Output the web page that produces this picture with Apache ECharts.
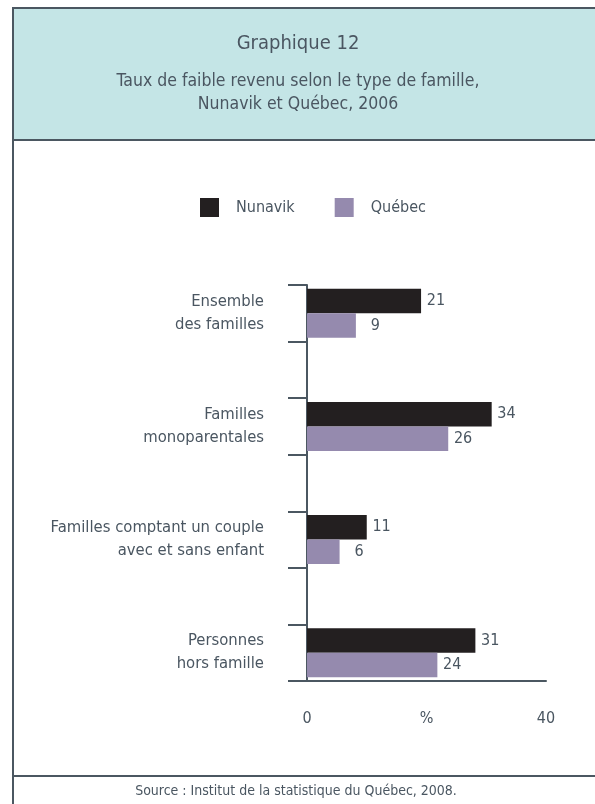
<!DOCTYPE html>
<html><head><meta charset="utf-8">
<script src="https://cdn.jsdelivr.net/npm/echarts@6/dist/echarts.min.js"></script>
<style>html,body{margin:0;padding:0;background:#fff}#c{width:595px;height:804px}</style>
</head><body><div id="c"></div>
<script>
const categories = ["Ensemble\ndes familles", "", "Familles\nmonoparentales", "", "Familles comptant un couple\navec et sans enfant", "", "Personnes\nhors famille"];
const nunavik = [21, null, 34, null, 11, null, 31];
const quebec = [9, null, 26, null, 6, null, 24];
const seriesNames = ["Nunavik", "Québec"];
const tickLabels = {0: "0", 22: "%", 44: "40"};
const titleText = "Graphique 12";
const subtitleText = "Taux de faible revenu selon le type de famille,\nNunavik et Québec, 2006";
const sourceText = "Source : Institut de la statistique du Québec, 2008.";

const FONT = '"Liberation Sans Narrow", "DejaVu Sans Condensed", Roboto, sans-serif';
const TXT = '#4a5661';
const LINE = '#4b5761';
const valueLabel = {
  show: true, position: 'right', distance: 7,
  formatter: p => '{v|' + p.value + '}',
  rich: {v: {width: 17, align: 'right', fontFamily: FONT, fontSize: 16, color: TXT}}
};
const chart = echarts.init(document.getElementById('c'), null, {renderer: 'canvas'});
chart.setOption({
  animation: false,
  textStyle: {fontFamily: FONT, color: TXT},
  graphic: [
    {type: 'rect', shape: {x: 13, y: 8, width: 600, height: 132}, style: {fill: '#c4e5e6', stroke: LINE, lineWidth: 2}, z: 0},
    {type: 'line', shape: {x1: 13, y1: 140, x2: 13, y2: 810}, style: {stroke: LINE, lineWidth: 2}},
    {type: 'line', shape: {x1: 13, y1: 776, x2: 600, y2: 776}, style: {stroke: LINE, lineWidth: 2}},
    {type: 'text', x: 298, y: 44, style: {text: titleText, font: '20px ' + FONT, fill: TXT, align: 'center', verticalAlign: 'middle'}},
    {type: 'text', x: 298, y: 92.5, style: {text: subtitleText, font: '17.5px ' + FONT, fill: TXT, align: 'center', verticalAlign: 'middle', lineHeight: 23}},
    {type: 'text', x: 296, y: 791, style: {text: sourceText, font: '14px ' + FONT, fill: TXT, align: 'center', verticalAlign: 'middle'}}
  ],
  legend: {
    left: 195, top: 193, itemWidth: 19, itemHeight: 19, itemGap: 40, icon: 'rect',
    textStyle: {fontFamily: FONT, fontSize: 16, color: TXT, padding: [0, 0, 0, 12]},
    data: seriesNames
  },
  grid: {left: 307, right: 49, top: 285, bottom: 123, containLabel: false},
  xAxis: {
    type: 'value', min: 0, max: 44, interval: 22,
    axisLine: {show: true, lineStyle: {color: LINE, width: 2}},
    axisTick: {show: false}, splitLine: {show: false},
    axisLabel: {margin: 30, fontFamily: FONT, fontSize: 16, color: TXT, formatter: v => tickLabels[v] !== undefined ? tickLabels[v] : ''}
  },
  yAxis: {
    type: 'category', inverse: true, data: categories,
    axisLine: {show: true, lineStyle: {color: LINE, width: 2}},
    axisTick: {show: true, length: 19, interval: 0, lineStyle: {color: LINE, width: 2}},
    axisLabel: {margin: 43, fontFamily: FONT, fontSize: 16.5, color: TXT, lineHeight: 23, align: 'right', interval: 0}
  },
  series: [
    {name: seriesNames[0], type: 'bar', data: nunavik, barWidth: 24.5, barGap: '0%', itemStyle: {color: '#231f20'}, label: valueLabel},
    {name: seriesNames[1], type: 'bar', data: quebec, barWidth: 24.5, barGap: '0%', itemStyle: {color: '#958aae'}, label: valueLabel}
  ]
});
</script></body></html>
